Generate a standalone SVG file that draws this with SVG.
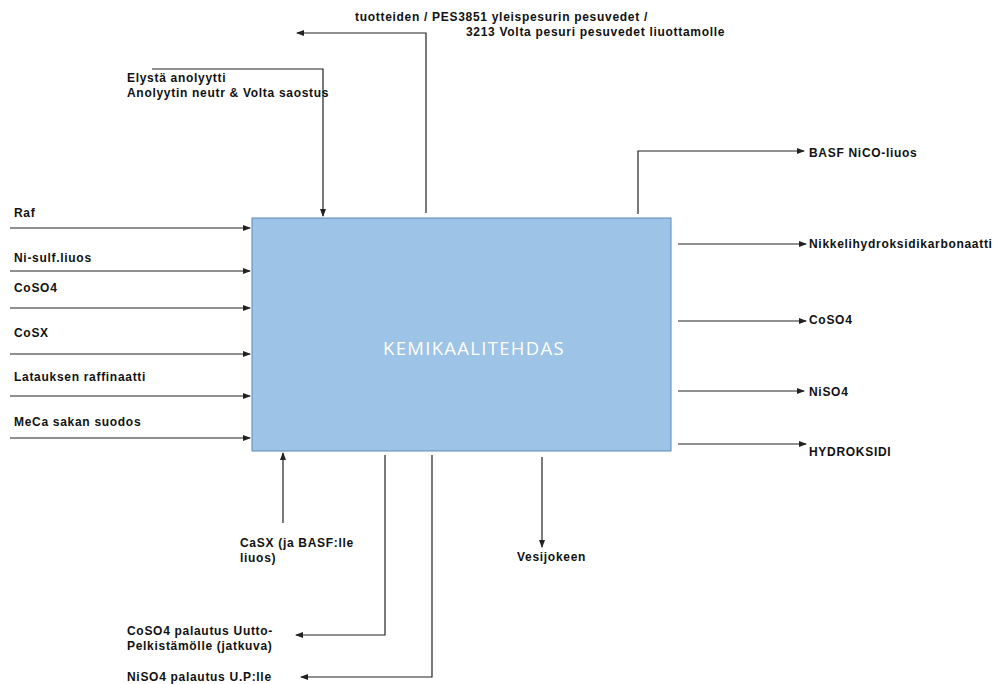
<svg xmlns="http://www.w3.org/2000/svg" width="997" height="684" viewBox="0 0 997 684">
<style>
.lbl{font-family:"Liberation Sans",Arial,sans-serif;font-size:12px;font-weight:bold;fill:#111;letter-spacing:0.7px}
.ln{fill:none;stroke:#222;stroke-width:1.2}
.title{font-family:"Open Sans","Liberation Sans",sans-serif;font-size:18.5px;fill:#fff;letter-spacing:1.3px}
</style>
<defs>
<marker id="ah" markerWidth="8" markerHeight="6" refX="7" refY="3" orient="auto" markerUnits="userSpaceOnUse">
<path d="M0,0 L8,3 L0,6 Z" fill="#222"/>
</marker>
</defs>
<rect width="997" height="684" fill="#fff"/>
<g id="kemikaalitehdas">
<rect x="252" y="218" width="419" height="233" fill="#9DC3E6" stroke="#5B89B5" stroke-width="1"/>
<text class="title" x="474" y="355" text-anchor="middle">KEMIKAALITEHDAS</text>
</g>
<g id="connectors">
<path class="ln" d="M426,213 V33 H297" marker-end="url(#ah)"/>
<path class="ln" d="M152,69 H323 V216" marker-end="url(#ah)"/>
<path class="ln" d="M10,228 H250" marker-end="url(#ah)"/>
<path class="ln" d="M10,271 H250" marker-end="url(#ah)"/>
<path class="ln" d="M10,308 H250" marker-end="url(#ah)"/>
<path class="ln" d="M10,354 H250" marker-end="url(#ah)"/>
<path class="ln" d="M10,396 H250" marker-end="url(#ah)"/>
<path class="ln" d="M10,438 H250" marker-end="url(#ah)"/>
<path class="ln" d="M638,214 V151 H804" marker-end="url(#ah)"/>
<path class="ln" d="M678,244 H806" marker-end="url(#ah)"/>
<path class="ln" d="M678,321 H806" marker-end="url(#ah)"/>
<path class="ln" d="M678,391 H804" marker-end="url(#ah)"/>
<path class="ln" d="M678,444 H806" marker-end="url(#ah)"/>
<path class="ln" d="M283,523 V453" marker-end="url(#ah)"/>
<path class="ln" d="M385,455 V635 H296" marker-end="url(#ah)"/>
<path class="ln" d="M432,455 V677 H301" marker-end="url(#ah)"/>
<path class="ln" d="M542,457 V547" marker-end="url(#ah)"/>
</g>
<g id="labels">
<text class="lbl" x="355" y="21">tuotteiden / PES3851 yleispesurin pesuvedet /</text>
<text class="lbl" x="466" y="36">3213 Volta pesuri pesuvedet liuottamolle</text>
<text class="lbl" x="127" y="82">Elystä anolyytti</text>
<text class="lbl" x="127" y="97">Anolyytin neutr &amp; Volta saostus</text>
<text class="lbl" x="14" y="217">Raf</text>
<text class="lbl" x="14" y="262">Ni-sulf.liuos</text>
<text class="lbl" x="14" y="292">CoSO4</text>
<text class="lbl" x="14" y="337">CoSX</text>
<text class="lbl" x="14" y="381">Latauksen raffinaatti</text>
<text class="lbl" x="14" y="426">MeCa sakan suodos</text>
<text class="lbl" x="809" y="157">BASF NiCO-liuos</text>
<text class="lbl" x="809" y="248">Nikkelihydroksidikarbonaatti</text>
<text class="lbl" x="809" y="324">CoSO4</text>
<text class="lbl" x="809" y="396">NiSO4</text>
<text class="lbl" x="809" y="456">HYDROKSIDI</text>
<text class="lbl" x="240" y="547">CaSX (ja BASF:lle</text>
<text class="lbl" x="240" y="562">liuos)</text>
<text class="lbl" x="517" y="561">Vesijokeen</text>
<text class="lbl" x="127" y="635">CoSO4 palautus Uutto-</text>
<text class="lbl" x="127" y="650">Pelkistämölle (jatkuva)</text>
<text class="lbl" x="127" y="681">NiSO4 palautus U.P:lle</text>
</g>
</svg>
